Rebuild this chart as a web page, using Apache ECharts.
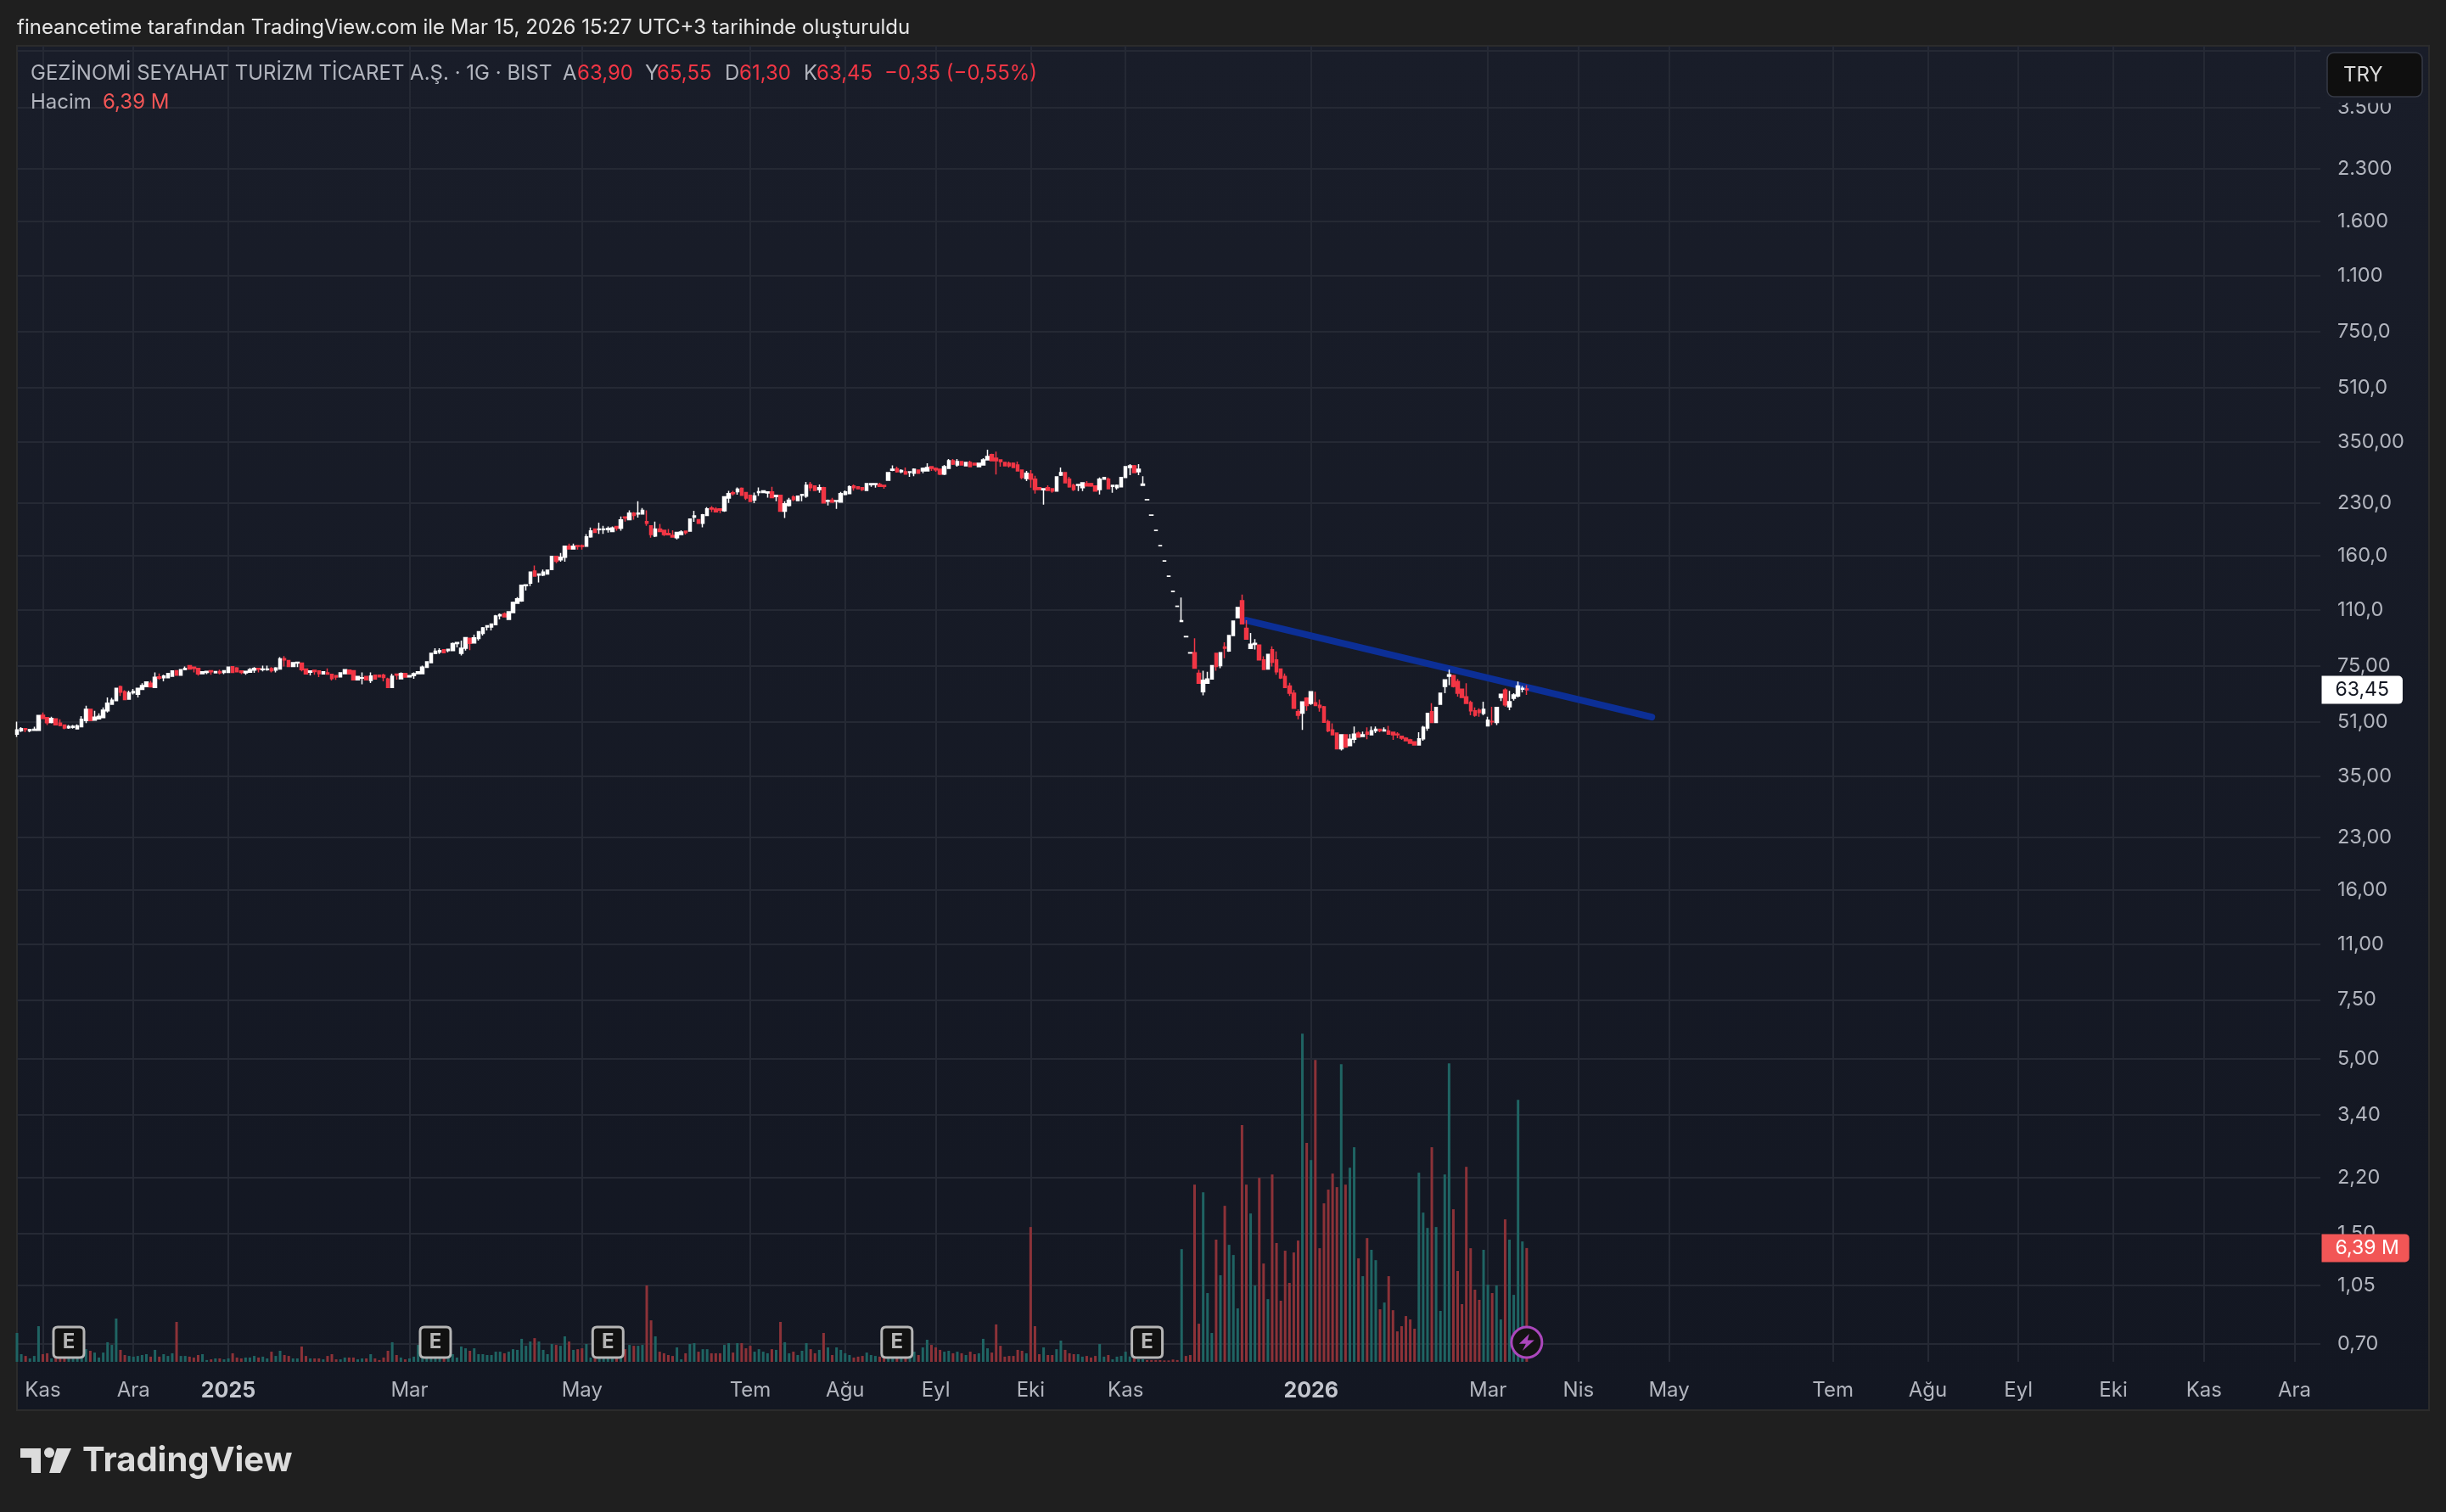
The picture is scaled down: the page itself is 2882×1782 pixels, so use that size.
<!DOCTYPE html>
<html>
<head>
<meta charset="utf-8">
<title>GEZINOMI</title>
<style>
html, body { margin: 0; padding: 0; background: #1f1f1f; }
#chart { width: 2882px; height: 1782px; }
</style>
<script src="https://cdn.jsdelivr.net/npm/echarts@6/dist/echarts.min.js"></script>
</head>
<body>
<div id="chart"></div>
<script>
"use strict";
var opens = [
    46.8,47.9,48.6,47.9,48.0,48.0,53.3,52.4,50.7,52.0,
    50.5,49.8,48.9,49.0,48.5,49.2,51.4,55.5,51.5,52.0,
    52.4,54.9,57.5,58.9,64.9,62.7,59.5,62.2,61.6,63.7,
    64.9,66.4,64.5,69.4,69.0,69.0,69.7,72.4,70.2,73.0,
    75.0,74.2,73.6,71.0,71.6,72.4,71.4,72.0,71.6,71.6,
    74.5,73.8,72.3,71.4,71.7,72.7,73.6,72.9,73.0,73.5,
    72.7,73.3,78.7,77.7,74.6,76.3,76.3,73.3,71.7,72.6,
    72.3,70.8,71.4,70.6,70.0,69.4,71.0,72.7,72.4,68.0,
    68.8,69.6,67.7,70.2,70.2,70.2,68.4,64.5,70.7,68.5,
    71.1,69.4,70.0,71.0,71.0,74.1,76.6,81.5,82.4,83.7,
    83.2,83.2,87.3,81.6,84.5,90.6,87.7,90.4,93.6,97.9,
    97.9,99.5,105.8,107.1,103.1,108.1,115.2,117.1,130.2,132.5,
    144,140,140,141,145.5,159.2,155.5,158.3,170.8,167.5,
    171.5,171.5,170.8,182.2,192.3,191.5,191.5,191.5,189,195.7,
    193.4,209,205,214.7,213.4,213.4,202.4,196.5,183.2,192.3,
    190.5,186.5,184,181,185,189.5,189.5,208.6,205,200,
    211,222.3,220.5,221,218,238,246.8,248.5,254.5,247.3,
    242.5,235,247.3,247.3,246.5,248.2,240.5,242.5,217.5,226,
    239.6,234,242.5,241,261.5,258.5,252.5,255.5,232.8,234.6,
    232.8,231.5,244,245.3,258.5,257,255.5,251,261,261.5,
    261.5,260,269,288.2,291,285.3,285.3,284.2,282.5,288.7,
    287,287,295.5,292,290.4,280.7,292,307.7,299,306,
    297.3,304.2,302.3,295.5,299,309.6,321,313.2,309.6,304.2,
    302.3,302.3,299,288.7,272.3,280.7,271.2,255.5,252,255.5,
    254,249.6,278.7,283.6,271.2,260,260,255.5,263,263,
    258.5,252.5,271.2,271.2,258,255.5,257,274.3,293.7,297.3,
    285.3,260,235.2,211.5,190.4,171.4,154.2,138.8,125.0,112.8,
    101.6,91.5,81.8,82,71.2,62.7,66.4,68.4,81.6,75,
    85.3,83,92.3,104.3,117.3,97,84.4,86.8,86.4,78,
    73.3,83.7,78,73.3,69.6,65.2,62,54.6,54.1,60,
    57.8,58.1,57.1,56.5,51,48.2,47.1,42.3,46.6,43.2,
    45.2,47.1,46,47.4,46.6,47.9,48.4,47.8,47.8,47.4,
    46.8,46.1,45.5,45,44.4,43.4,45.3,48.8,54.6,50.7,
    57.5,65,69.7,70,67.2,63.8,60.5,58.2,54.9,55.2,
    54,49.5,51.1,50.7,60.2,63.4,56.5,59.9,60.9,63.8,
    63.9
];
var closes = [
    48.2,48.6,48.3,48.3,48.4,53.2,52.1,50.6,52.1,49.9,
    49.7,48.8,49.3,49.4,49.5,51.8,55.5,51.4,52.6,52.9,
    55.2,57.9,59.1,64.1,62.5,59.4,62.2,62.8,64.1,65.4,
    67.0,64.8,69.2,68.8,69.8,71.1,72.3,70.2,73.0,73.6,
    73.3,73.6,70.8,71.9,72.1,71.9,72.0,71.4,72.4,74.2,
    71.6,71.9,71.6,72.1,73.0,73.6,73.2,73.3,73.3,72.4,
    73.8,78.6,78.0,74.6,76.6,76.8,73.0,70.8,72.3,72.0,
    71.0,71.9,70.7,68.6,69.3,71.4,72.9,70.9,68.0,69.6,
    69.0,68.0,69.8,68.4,69.4,69.1,64.5,69.7,70.2,71.1,
    69.3,70.0,71.0,71.9,74.2,77.0,81.6,82.9,83.2,82.0,
    84.0,87.3,88.0,84.5,91.0,87.5,90.8,94.7,97.3,98.7,
    99.9,105.6,106.6,105.0,108.7,115.9,118.8,130.5,131,143,
    138.9,141,143,144.8,159.2,154,158.3,170.8,167.5,170.8,
    170.5,170.2,182.2,189.7,187.8,192.3,192.3,193,193.8,193.4,
    204.8,207.5,214.7,211,214.7,218.5,200,185,192.3,189,
    185,184.7,182,187.8,188.4,187.5,206,210.6,200,212,
    221,220.5,216.4,219,240,245.6,245.6,253,242.5,238,
    232.5,241.5,248.5,250,248.2,238.7,242.5,217.5,228.7,234.6,
    235.5,241,244,260,255.5,251,255.5,230,234,231.5,
    234,245.3,248.2,257,255.5,254,252.5,263,263,263,
    258,258,283.6,290.4,285.3,288,280.7,285.3,290.4,282.5,
    292,293.7,292,289.2,280.7,295.5,307.7,300.5,306,299,
    304.2,295.5,299,302.3,309.6,317,307.7,307.7,306,297.3,
    297.3,293.7,287,274.3,282.5,271.2,252.5,252.5,254,251,
    249.6,275.3,283.6,264.5,257,252.5,261.5,264.5,258.5,258.5,
    249.6,271.2,274.3,254,260,260,274.3,295.5,297.3,283.6,
    290.4,262,235.4,211.7,190.6,171.6,154.4,139,125.2,113,
    102.2,91.7,82,73.7,66.4,67.8,68.4,75,74.6,82,
    84.5,92.3,101.9,112,100,90,87,87.5,78,73.1,
    81,76.8,71.9,68.9,64.5,62,55.9,53.3,58.4,57,
    62.7,57,56.2,50.8,47.9,46.6,42.3,46.6,42.8,45.2,
    46.8,45.8,46.6,46.8,47.9,48.4,47.9,48.2,46.8,46.6,
    46.6,45.5,44.7,43.9,43.4,45.3,49,54,50.7,56.2,
    62,68,70.4,65,62,60.2,57.8,54.9,53.3,54.3,
    55.5,51.5,50.9,56.2,61.6,57.2,58.5,61.3,65.2,64.1,
    63.45
];
var highs = [
    51.0,49.1,48.6,48.4,49.2,53.2,54.3,52.4,52.7,52.0,
    51.8,49.8,49.8,49.8,50.0,53.0,56.9,55.5,54.9,54.0,
    56.2,60.2,60.1,64.1,65.4,63.3,63.1,63.9,64.1,66.4,
    67.2,67.5,71.6,71.1,70.4,71.1,72.3,72.4,73.3,74.6,
    75.0,74.2,73.6,71.9,72.1,72.4,72.0,72.9,72.4,74.2,
    74.5,74.2,72.3,72.1,73.8,74.2,73.6,75.0,75.0,74.2,
    74.2,79.5,80.1,77.7,76.6,76.8,76.3,73.3,72.3,72.6,
    72.3,71.9,73.6,70.6,70.0,71.4,73.3,72.7,72.4,69.6,
    71.6,69.6,71.6,70.2,70.2,71.0,69.0,71.0,71.0,71.6,
    71.1,70.0,71.6,71.9,75.0,77.3,81.9,84.5,84.5,83.7,
    84.0,88.0,88.0,89.1,91.0,90.6,92.9,95.2,97.9,98.7,
    99.9,106.3,107.5,108.3,108.7,116.6,120.2,130.5,131,143,
    149.5,141,145.5,144.8,159.2,160,163,171.5,173.9,173.9,
    171.5,172.8,185.7,194.3,192.3,200.8,196.5,195.7,195.7,196.5,
    209.5,209,218.5,216,233,222.3,218.5,196.5,202.4,199,
    190.5,192.3,190.5,188.4,190.5,189.5,206,218,205,213.4,
    223.6,225,223.6,221,240,250,250,256,256,247.3,
    242.5,247.3,256,250,248.2,257,242.5,242.5,232.8,238.3,
    242.5,241,244,266,266,260,261.5,257,235.5,238.3,
    234,248.2,251,260,261.5,257,255.5,263,263,263,
    264.5,260,283.6,298,295.5,290.4,293.7,285.3,292,288.7,
    293.7,302.3,295.5,293.7,290.4,298.9,311.3,311.3,311.3,306,
    304.2,307.7,302.3,302.3,313.2,332,323,328,309.6,304.2,
    306,304.2,306,288.7,287,288.7,277.6,255.5,254,260,
    254,275.3,293.7,283.6,275.3,263,261.5,264.5,267.6,264.5,
    258.5,274.3,275.3,274.3,260,261.5,275.3,295.5,300.5,299,
    300.5,276.8,235.4,211.7,190.6,171.6,154.4,139,125.2,113,
    119.9,91.7,82,90.6,72.8,72.4,71.9,75,81.6,82,
    88.1,92.3,101.9,112,122.4,102.5,94,90,86.4,80,
    81,85.7,82.7,73.3,71.1,66.6,63.4,55.5,58.4,60.3,
    62.7,62.7,59.4,56.8,51.7,50.4,47.1,46.6,46.8,46.8,
    49.3,47.6,47.6,49,49.3,49.3,48.4,49,49.5,47.4,
    47.4,46.1,45.8,45.3,44.4,47.4,49.5,54,57.9,56.2,
    62,68,73,70.4,68.4,63.8,66.4,58.9,56.2,55.9,
    58.5,52.7,56.5,56.2,61.6,64.1,63,62,67.2,65.2,
    65.55
];
var lows = [
    45.9,47.5,47.4,47.4,47.9,48.0,52.1,49.8,50.4,49.9,
    49.4,48.4,48.5,48.6,48.5,49.1,50.5,51.4,51.3,51.8,
    52.4,54.3,57.2,58.9,60.9,59.2,59.5,61.5,60.2,63.4,
    64.9,64.8,64.5,68.0,67.3,69.0,69.7,70.2,70.2,73.0,
    73.3,71.6,70.0,71.0,70.7,70.4,71.4,70.6,70.7,71.6,
    71.6,71.9,70.7,70.4,71.7,71.4,71.6,72.1,72.4,71.6,
    71.6,73.3,74.6,74.6,74.6,74.2,72.1,70.8,70.1,70.4,
    69.3,70.8,70.7,67.7,68.0,69.4,71.0,70.9,68.0,68.0,
    66.0,68.0,66.5,68.4,69.4,67.3,64.5,64.3,68.1,68.5,
    69.3,69.4,68.5,71.0,71.0,74.1,76.6,81.5,81.3,82.0,
    82.2,83.2,85.0,80.4,83.2,83.5,87.7,89.1,92.3,95.6,
    95.6,99.5,103.1,105.0,103.1,108.1,115.2,116.4,125.9,129.7,
    138.3,133,139,141,145.5,152,153.6,153.6,166.8,167.5,
    166.8,166.8,170.8,181,187.8,186,186,187.5,189,190,
    190,202.4,205,205,208,213.4,196.5,181,182,189,
    183.2,184.7,182,179,185,185,189.5,202,200,194.5,
    211,216,216.4,214.7,216.5,230,242.3,243.5,242.5,235,
    232.5,229.8,241.5,247.3,238.7,238.7,232.8,217.5,207.5,224.6,
    232.8,234,232.8,238.3,249.6,251,247,230,226,230,
    221,231.5,242.5,245.3,250.5,254,249.6,251,257,255.5,
    258,254,269,286.5,283.6,282.5,280.7,275.3,276.5,282.5,
    282.5,287,287,285.3,278.7,278.7,292,299,295.5,299,
    297.3,295.5,299,295.5,299,309.6,307.7,280,295.5,297.3,
    293.7,293.7,287,271.2,267.6,255.5,245.3,252.5,227.4,249.6,
    247,249.6,277,264.5,255.5,249.6,249.6,249.6,258.5,257,
    249.6,243.9,271.2,254,247,252.5,257,274.3,278.7,283.6,
    278.7,260,235.2,211.5,190.4,171.4,154.2,138.8,125,112.8,
    101.6,91.5,81.8,73.7,66.4,61.1,66.4,68.4,72.4,73.7,
    79,82.5,92.3,104.3,100,90,84.4,83.8,78,72.8,
    73.3,74.6,70.4,68.4,64.5,60.9,55.9,51.8,48.2,54.9,
    57.2,57,54.6,50.8,47.4,46.6,42.3,41.8,42.8,43.2,
    44,45.8,46,45.2,46.6,47.1,47.4,47.8,46.8,45,
    45.5,45,44.7,43.9,43.4,43.4,44.7,47.9,50.7,50.7,
    57.5,62,65.6,64.5,60.6,60.2,57.8,53.3,52.7,52.7,
    53.3,49.5,49.8,49.8,58.8,56.5,55.2,58.9,60.2,62.4,
    61.3
];
// hacim, milyon
var volumes = [
    1.62,.43,.33,.19,.33,2.0,.43,.48,.19,.3,
    .25,.3,.3,.25,.3,.3,.71,.62,.52,.24,
    .52,1.1,.95,2.43,.67,.38,.33,.29,.33,.38,
    .43,.29,.67,.29,.43,.33,.48,2.24,.33,.33,
    .29,.24,.38,.43,.1,.14,.19,.19,.14,.19,
    .48,.24,.19,.24,.24,.33,.24,.29,.19,.57,
    .33,.62,.38,.33,.19,.19,.86,.33,.19,.19,
    .19,.14,.33,.43,.14,.14,.24,.24,.24,.14,
    .19,.19,.43,.19,.1,.24,.62,1.1,.38,.24,
    .14,.19,.29,.95,.3,.3,.3,.3,.3,.3,
    .3,.43,.24,.86,.76,.62,.76,.43,.43,.38,
    .38,.57,.57,.48,.57,.71,.67,1.29,.9,1.14,
    1.33,1.14,.67,.43,1.0,.95,.9,1.43,1.14,.67,
    .71,.76,1.0,.24,.3,.3,.3,.3,.3,.3,
    .3,.71,.95,.9,.9,.95,4.29,2.33,1.43,.57,
    .48,.38,.33,.81,.14,.48,1.0,1.05,.57,.71,
    .71,.48,.48,.48,.95,1.05,.52,1.05,1.05,.76,
    .9,.57,.71,.57,.48,.71,.67,2.24,1.1,.48,
    .57,.38,.62,1.05,.71,.48,.67,1.62,.81,.38,
    .81,.67,.48,.38,.24,.29,.33,.52,.38,.33,
    .29,.3,.3,.3,.3,.3,.3,.3,.57,.38,
    .81,1.24,.95,.81,.67,.57,.62,.48,.57,.48,
    .38,.57,.43,.48,1.29,.76,.52,2.1,.9,.29,
    .33,.33,.67,.62,.48,7.57,2.0,.43,.81,.38,
    .38,.71,1.19,.67,.48,.43,.43,.29,.33,.24,
    .33,1.0,.29,.38,.14,.29,.33,.57,.3,.3,
    .15,.15,.1,.1,.1,.1,.08,.08,.13,.1,
    6.33,.33,.38,9.95,2.14,9.52,3.86,1.62,6.86,4.86,
    8.76,6.57,6.0,3.0,13.29,9.95,8.33,4.29,10.33,5.52,
    3.52,10.52,6.67,3.43,6.24,4.43,6.14,6.81,18.43,12.29,
    11.33,16.95,6.38,8.9,9.67,10.57,9.81,16.71,9.95,10.9,
    12.05,5.81,4.81,6.95,6.29,5.71,2.95,3.33,4.81,2.9,
    1.71,2.0,2.57,2.38,1.86,10.62,8.38,7.52,12.05,7.57,
    2.86,10.52,16.76,8.57,5.1,3.24,10.95,6.38,4.05,3.48,
    6.29,4.33,3.86,4.29,2.38,8.0,6.86,3.76,14.71,6.76,
    6.39
];
var limitDownBars = [262, 263, 264, 265, 266, 267, 268, 269, 271, 272];
var earningsBars = [12, 97, 137, 204, 262];

var monthBars = [6, 27, 49, 91, 131, 170, 192, 213, 235, 257, 300, 341, 362, 383, 421, 443, 464, 486, 507, 528];
var monthLabels = ['Kas', 'Ara', '2025', 'Mar', 'May', 'Tem', 'Ağu', 'Eyl', 'Eki', 'Kas', '2026', 'Mar', 'Nis', 'May', 'Tem', 'Ağu', 'Eyl', 'Eki', 'Kas', 'Ara'];
var priceTicks = [5200, 3500, 2300, 1600, 1100, 750, 510, 350, 230, 160, 110, 75, 51, 35, 23, 16, 11, 7.5, 5, 3.4, 2.2, 1.5, 1.05, 0.7];
var priceLabels = ['', '3.500', '2.300', '1.600', '1.100', '750,0', '510,0', '350,00', '230,0', '160,0', '110,0', '75,00', '51,00', '35,00', '23,00', '16,00', '11,00', '7,50', '5,00', '3,40', '2,20', '1,50', '1,05', '0,70'];
var trendBars = [285, 379];
var trendPrices = [102.5, 52.6];

var FONT = 'Inter, "Noto Sans", sans-serif';
var UP = '#ffffff', DOWN = '#f23645';
var VOL_UP = '#1f6463', VOL_DOWN = '#8c3238';
var GRID = '#252934', TEXT = '#b2b5be';
var last = closes.length - 1;

var categories = [];
for (var i = 0; i < 535; i++) {
    var m = monthBars.indexOf(i);
    categories.push(m >= 0 ? monthLabels[m] : '');
}
var candleData = opens.map(function (o, i) {
    return [o, closes[i], lows[i], highs[i]];
});
var volumeData = volumes.map(function (v, i) {
    var red = closes[i] < opens[i] || limitDownBars.indexOf(i) >= 0;
    return { value: v, itemStyle: { color: red ? VOL_DOWN : VOL_UP } };
});
function hasLabel(index, value) {
    return value !== '';
}
function tickLabel(value) {
    var best = 0;
    priceTicks.forEach(function (t, i) {
        if (Math.abs(Math.log(t / value)) < Math.abs(Math.log(priceTicks[best] / value))) best = i;
    });
    return priceLabels[best];
}
function comma(v) {
    return v.toFixed(2).replace('.', ',');
}
function headerText(text, x, y, color) {
    return {
        type: 'text', z: 50, x: x, y: y,
        style: { text: text, fill: color, font: '24px ' + FONT, textVerticalAlign: 'middle' }
    };
}

var chart = echarts.init(document.getElementById('chart'), null, { width: 2882, height: 1782 });
chart.setOption({
    animation: false,
    backgroundColor: '#1f1f1f',
    grid: [
        { left: 20, top: 54, width: 2714, height: 1551 },
        { left: 20, top: 54, width: 2714, height: 1551 }
    ],
    xAxis: [{
        type: 'category',
        gridIndex: 0,
        data: categories,
        boundaryGap: false,
        axisLine: { show: false },
        axisTick: { show: false },
        splitLine: { show: true, interval: hasLabel, lineStyle: { color: GRID, width: 2 } },
        axisLabel: {
            interval: hasLabel,
            hideOverlap: false,
            margin: 22,
            fontFamily: FONT,
            fontSize: 24,
            color: TEXT,
            formatter: function (v) {
                return /^20/.test(v) ? '{y|' + v + '}' : v;
            },
            rich: { y: { fontFamily: FONT, fontSize: 25, fontWeight: 'bold', color: '#c3c6ce' } }
        }
    }, {
        type: 'category',
        gridIndex: 1,
        data: categories,
        boundaryGap: false,
        show: false
    }],
    yAxis: [{
        type: 'log',
        gridIndex: 0,
        logBase: 10,
        min: 0.619,
        max: 5370,
        position: 'right',
        axisLine: { show: false },
        axisTick: { show: false, customValues: priceTicks },
        splitLine: { show: true, lineStyle: { color: GRID, width: 2 } },
        axisLabel: {
            customValues: priceTicks,
            margin: 20,
            align: 'left',
            fontFamily: FONT,
            fontSize: 23.5,
            color: TEXT,
            padding: [2, 0, 0, 0],
            formatter: tickLabel
        }
    }, {
        type: 'value',
        gridIndex: 1,
        min: 0,
        max: 73.9,
        show: false
    }],
    series: [{
        name: 'Hacim',
        type: 'bar',
        xAxisIndex: 1,
        yAxisIndex: 1,
        z: 1,
        barWidth: 3,
        data: volumeData,
        markPoint: {
            silent: true,
            z: 10,
            data: earningsBars.map(function (b) {
                return {
                    coord: [b, 1.09],
                    symbol: 'path://M5 0H31Q36 0 36 5V31Q36 36 31 36H5Q0 36 0 31V5Q0 0 5 0Z',
                    symbolSize: [36, 36],
                    itemStyle: { color: '#111111', borderColor: '#b5b5b5', borderWidth: 3 },
                    label: { show: true, position: 'inside', formatter: 'E', color: '#b5b5b5', fontFamily: FONT, fontSize: 24, fontWeight: 'bold' }
                };
            }).concat([{
                coord: [last, 1.09],
                symbol: 'circle',
                symbolSize: 36,
                itemStyle: { color: '#131313', borderColor: '#ab47bc', borderWidth: 3 },
                label: { show: false }
            }, {
                coord: [last, 1.09],
                symbol: 'path://M14 0 L2 14 L10 14 L6 24 L20 9 L12 9 Z',
                symbolSize: [18, 20],
                itemStyle: { color: '#ab47bc' },
                label: { show: false }
            }, {
                coord: [534, volumes[last]],
                symbol: 'rect',
                symbolSize: 1,
                itemStyle: { color: 'transparent' },
                label: {
                    show: true, position: 'right', distance: 1,
                    formatter: comma(volumes[last]) + ' M',
                    color: '#ffffff', backgroundColor: '#f25656',
                    fontFamily: FONT, fontSize: 23, padding: [5, 12, 5, 16],
                    borderRadius: [0, 5, 5, 0]
                }
            }])
        }
    }, {
        name: 'Trend',
        type: 'line',
        z: 2,
        xAxisIndex: 0,
        yAxisIndex: 0,
        symbol: 'none',
        silent: true,
        lineStyle: { color: '#0c2f96', width: 8, cap: 'round' },
        data: trendBars.map(function (b, i) {
            return [b, trendPrices[i]];
        })
    }, {
        name: 'GEZINOMI',
        type: 'candlestick',
        z: 3,
        xAxisIndex: 0,
        yAxisIndex: 0,
        barWidth: 4,
        itemStyle: { color: UP, color0: DOWN, borderColor: UP, borderColor0: DOWN, borderWidth: 1.5 },
        data: candleData,
        markPoint: {
            silent: true,
            data: [{
                coord: [534, closes[last]],
                symbol: 'rect',
                symbolSize: 1,
                itemStyle: { color: 'transparent' },
                label: {
                    show: true, position: 'right', distance: 1,
                    formatter: comma(closes[last]),
                    color: '#131722', backgroundColor: '#ffffff',
                    fontFamily: FONT, fontSize: 23, padding: [5, 16, 5, 16],
                    borderRadius: [0, 5, 5, 0]
                }
            }]
        }
    }],
    graphic: {
        elements: [
            {
                type: 'rect', z: -10, silent: true,
                shape: { x: 20, y: 54, width: 2842, height: 1608 },
                style: {
                    fill: new echarts.graphic.LinearGradient(0, 0, 0, 1, [
                        { offset: 0, color: '#191d29' },
                        { offset: 1, color: '#131722' }
                    ]),
                    stroke: '#2b2b2b',
                    lineWidth: 2
                }
            },
            headerText('fineancetime tarafından TradingView.com ile Mar 15, 2026 15:27 UTC+3 tarihinde oluşturuldu', 20, 33, '#e6e6e6'),
            headerText('GEZİNOMİ SEYAHAT TURİZM TİCARET A.Ş. · 1G · BIST', 36, 87, TEXT),
            headerText('A', 663, 87, TEXT), headerText('63,90', 680, 87, DOWN),
            headerText('Y', 760, 87, TEXT), headerText('65,55', 774, 87, DOWN),
            headerText('D', 854, 87, TEXT), headerText('61,30', 871, 87, DOWN),
            headerText('K', 947, 87, TEXT), headerText('63,45', 962, 87, DOWN),
            headerText('−0,35 (−0,55%)', 1042, 87, DOWN),
            headerText('Hacim', 36, 121, TEXT),
            headerText('6,39 M', 121, 121, '#f25656'),
            {
                // 3.500 etiketinin ust kismi butonun altinda kalir
                type: 'rect', z: 49,
                shape: { x: 2742, y: 100, width: 112, height: 21.5 },
                style: { fill: '#191d29' }
            },
            {
                type: 'rect', z: 50,
                shape: { x: 2742, y: 62, width: 112, height: 52, r: 8 },
                style: { fill: '#0f0f0f', stroke: '#363a45', lineWidth: 1.5 }
            },
            headerText('TRY', 2761, 89, '#dbdbdb'),
            // TradingView logosu
            {
                type: 'polygon', z: 50,
                shape: { points: [[24, 1707], [48, 1707], [48, 1736], [37, 1736], [37, 1718], [24, 1718]] },
                style: { fill: '#dcdcdc' }
            },
            {
                type: 'circle', z: 50,
                shape: { cx: 58, cy: 1712, r: 6 },
                style: { fill: '#dcdcdc' }
            },
            {
                type: 'polygon', z: 50,
                shape: { points: [[67, 1707], [84, 1707], [71, 1736], [58, 1736]] },
                style: { fill: '#dcdcdc' }
            },
            {
                type: 'text', z: 50, x: 97, y: 1722,
                style: { text: 'TradingView', fill: '#dcdcdc', font: 'bold 40px ' + FONT, textVerticalAlign: 'middle' }
            }
        ]
    }
});
</script>
</body>
</html>
